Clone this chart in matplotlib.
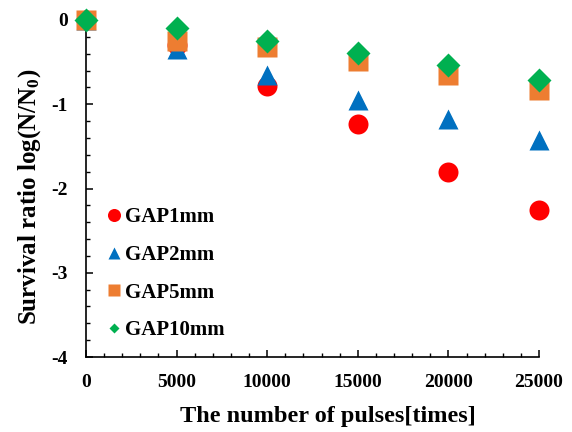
import matplotlib
matplotlib.use("Agg")
import matplotlib.pyplot as plt
from matplotlib.ticker import MultipleLocator

plt.rcParams['font.family'] = ['Liberation Serif', 'DejaVu Serif']
plt.rcParams['font.weight'] = 'bold'
plt.rcParams['mathtext.fontset'] = 'custom'
plt.rcParams['mathtext.bf'] = 'Liberation Serif:bold'
plt.rcParams['mathtext.rm'] = 'Liberation Serif:bold'
plt.rcParams['mathtext.default'] = 'bf'

pulses = [0, 5000, 10000, 15000, 20000, 25000]
gap1 = [0, -0.30, -0.78, -1.23, -1.81, -2.25]
gap2 = [0, -0.35, -0.65, -0.95, -1.17, -1.42]
gap5 = [0, -0.25, -0.32, -0.49, -0.65, -0.83]
gap10 = [0, -0.10, -0.25, -0.39, -0.53, -0.71]
labels = ['GAP1mm', 'GAP2mm', 'GAP5mm', 'GAP10mm']

fig = plt.figure(figsize=(5.72, 4.32), dpi=100)
ax = fig.add_axes([86/572, 1-357/432, (539-86)/572, (357-20)/432])

ax.plot(pulses, gap1, 'o', color='#ff0000', ms=14.4, mec='none', label=labels[0], clip_on=False, zorder=3)
ax.plot(pulses, gap2, '^', color='#0070c0', ms=14.4, mec='none', label=labels[1], clip_on=False, zorder=4)
ax.plot(pulses, gap5, 's', color='#ed7d31', ms=14.4, mec='none', label=labels[2], clip_on=False, zorder=5)
ax.plot(pulses, gap10, 'D', color='#00b050', ms=12.7, mec='none', label=labels[3], clip_on=False, zorder=6)

ax.set_xlim(0, 25000)
ax.set_ylim(-4, 0)
ax.xaxis.set_major_locator(MultipleLocator(5000))
ax.xaxis.set_minor_locator(MultipleLocator(1000))
ax.yaxis.set_major_locator(MultipleLocator(1))
ax.yaxis.set_minor_locator(MultipleLocator(0.2))
ax.yaxis.set_major_formatter(matplotlib.ticker.FuncFormatter(lambda v, p: f"{int(round(v))}"))

for s in ['top', 'right']:
    ax.spines[s].set_visible(False)
for s in ['left', 'bottom']:
    ax.spines[s].set_linewidth(1.2)

ax.tick_params(which='major', direction='in', length=5, width=1.1, labelsize=14)
ax.tick_params(which='minor', direction='in', length=3, width=1.0)
ax.tick_params(axis='x', which='major', pad=12)
ax.tick_params(axis='y', which='major', pad=13)
for t in ax.get_xticklabels() + ax.get_yticklabels():
    t.set_fontweight('bold')

ax.set_xlabel('The number of pulses[times]', fontsize=17.5, fontweight='bold', labelpad=11)
ax.set_ylabel('Survival ratio log(N/N$_0$)', fontsize=18, fontweight='bold', labelpad=6)
ax.xaxis.label.set_x(0.534)
ax.yaxis.label.set_y(0.475)

leg = ax.legend(loc='upper left', bbox_to_anchor=(0.0, 0.50), frameon=False,
                handletextpad=0.05, labelspacing=0.85, handlelength=0.9,
                prop={'family': 'Liberation Serif', 'weight': 'bold', 'size': 15})
for h, ms in zip(leg.legend_handles, [9.4, 8.0, 8.0, 4.8]):
    h.set_markersize(ms)

fig.savefig('out.png', dpi=100)
